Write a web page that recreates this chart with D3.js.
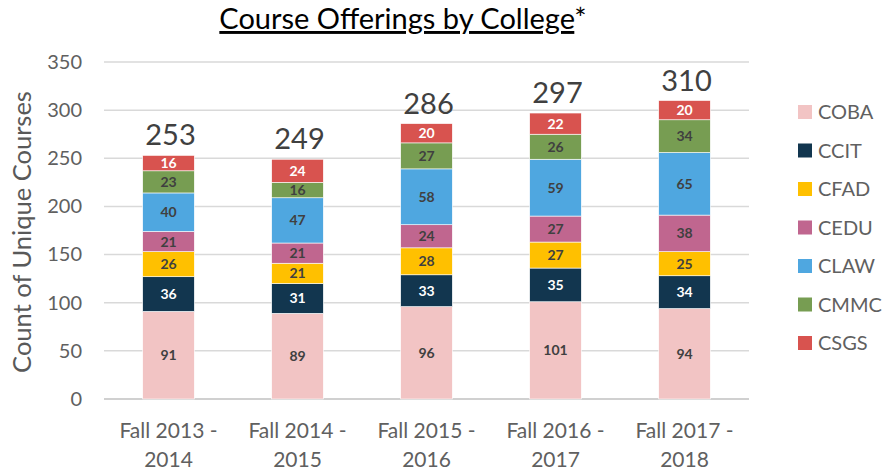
<!DOCTYPE html>
<html>
<head>
<meta charset="utf-8">
<script src="https://cdn.jsdelivr.net/npm/d3@7"></script>
<style>
  body { margin:0; background:#fff; }
  svg text { font-family: Lato, "Open Sans", sans-serif; }
</style>
</head>
<body>
<div id="plot"></div>
<script>
// data
var terms = ['Fall 2013 - 2014','Fall 2014 - 2015','Fall 2015 - 2016','Fall 2016 - 2017','Fall 2017 - 2018'];
var colleges = ['COBA','CCIT','CFAD','CEDU','CLAW','CMMC','CSGS'];
var COBA = [91, 89, 96, 101, 94];
var CCIT = [36, 31, 33, 35, 34];
var CFAD = [26, 21, 28, 27, 25];
var CEDU = [21, 21, 24, 27, 38];
var CLAW = [40, 47, 58, 59, 65];
var CMMC = [23, 16, 27, 26, 34];
var CSGS = [16, 24, 20, 22, 20];
var yTicks = [0, 50, 100, 150, 200, 250, 300, 350];

var colors = {COBA:'#f2c4c4', CCIT:'#12364f', CFAD:'#ffc000', CEDU:'#c0668f',
              CLAW:'#4fa7e0', CMMC:'#779d52', CSGS:'#d8534f'};
var lightText = {CCIT:true, CSGS:true};

var series = {COBA:COBA, CCIT:CCIT, CFAD:CFAD, CEDU:CEDU, CLAW:CLAW, CMMC:CMMC, CSGS:CSGS};
var rows = terms.map(function(t, i) {
  var r = {term:t};
  colleges.forEach(function(c){ r[c] = series[c][i]; });
  return r;
});

var W = 886, H = 473;
var margin = {t:62, r:137, b:74, l:104};
var width = W - margin.l - margin.r,
    height = H - margin.t - margin.b;

var svg = d3.select('#plot').append('svg')
  .attr('width', W).attr('height', H);

var plot = svg.append('g')
  .attr('transform', 'translate(' + margin.l + ',' + margin.t + ')');

var x = d3.scaleBand().domain(terms).range([0, width]).paddingInner(0.6).paddingOuter(0.3);
var y = d3.scaleLinear().domain([0, 350]).range([height, 0]);

// gridlines
plot.selectAll('.grid').data(yTicks).enter().append('line')
  .attr('x1', 0).attr('x2', width)
  .attr('y1', function(d){ return y(d); }).attr('y2', function(d){ return y(d); })
  .style('stroke', function(d){ return d === 0 ? '#d0d0d0' : '#d9d9d9'; })
  .style('stroke-width', function(d){ return d === 0 ? 2 : 1.5; });

// y tick labels
var yAxis = plot.append('g').call(d3.axisLeft(y).tickValues(yTicks).tickSize(0).tickPadding(22));
yAxis.select('.domain').remove();
yAxis.selectAll('text').style('font-size', '20px').style('fill', '#606060')
  .style('font-family', 'Lato, sans-serif');

// stacked bars
var stack = d3.stack().keys(colleges)(rows);
var layer = plot.selectAll('.layer').data(stack).enter().append('g')
  .style('fill', function(d){ return colors[d.key]; });

layer.selectAll('rect').data(function(d){ return d; }).enter().append('rect')
  .attr('x', function(d){ return x(d.data.term); })
  .attr('width', x.bandwidth())
  .attr('y', function(d){ return y(d[1]); })
  .attr('height', function(d){ return y(d[0]) - y(d[1]); })
  .style('stroke', '#ffffff').style('stroke-width', 0.6);

layer.each(function(s) {
  d3.select(this).selectAll('text.val').data(s).enter().append('text')
    .attr('class', 'val')
    .attr('x', function(d){ return x(d.data.term) + x.bandwidth()/2; })
    .attr('y', function(d){ return (y(d[0]) + y(d[1]))/2; })
    .attr('dy', '0.36em')
    .attr('text-anchor', 'middle')
    .style('font-size', '14px').style('font-weight', 'bold')
    .style('fill', lightText[s.key] ? '#ffffff' : '#404040')
    .text(function(d){ return d[1] - d[0]; });
});

// totals
plot.selectAll('.total').data(rows).enter().append('text')
  .attr('x', function(d){ return x(d.term) + x.bandwidth()/2 + 2; })
  .attr('y', function(d){ return y(d3.sum(colleges, function(c){ return d[c]; })) - 10; })
  .attr('text-anchor', 'middle')
  .style('font-size', '29px').style('fill', '#404040')
  .text(function(d){ return d3.sum(colleges, function(c){ return d[c]; }); });

// x labels (two lines)
plot.selectAll('.xl').data(terms).enter().append('text')
  .attr('x', function(d){ return x(d) + x.bandwidth()/2; })
  .attr('y', height + 39)
  .attr('text-anchor', 'middle')
  .style('font-size', '21px').style('fill', '#606060')
  .each(function(d) {
    var parts = d.split(' - ');
    d3.select(this).append('tspan').attr('x', x(d) + x.bandwidth()/2).text(parts[0] + ' -');
    d3.select(this).append('tspan').attr('x', x(d) + x.bandwidth()/2).attr('dy', 29).text(parts[1]);
  });

// y axis title
svg.append('text')
  .attr('transform', 'translate(31,232) rotate(-90)')
  .attr('text-anchor', 'middle')
  .style('font-size', '25.5px').style('fill', '#595959')
  .text('Count of Unique Courses');

// title
var title = svg.append('text')
  .attr('x', 403).attr('y', 29)
  .attr('text-anchor', 'middle')
  .style('font-size', '29px').style('fill', '#000');
title.append('tspan').style('text-decoration', 'underline').text('Course Offerings by College');
title.append('tspan').text('*');

// legend
var legend = svg.selectAll('.legend').data(colleges).enter().append('g')
  .attr('transform', function(d, i){ return 'translate(798,' + (105 + i*38.5) + ')'; });
legend.append('rect').attr('width', 14).attr('height', 14)
  .style('fill', function(d){ return colors[d]; });
legend.append('text').attr('x', 20).attr('y', 7).attr('dy', '0.36em')
  .style('font-size', '20px').style('fill', '#606060')
  .text(function(d){ return d; });
</script>
</body>
</html>
